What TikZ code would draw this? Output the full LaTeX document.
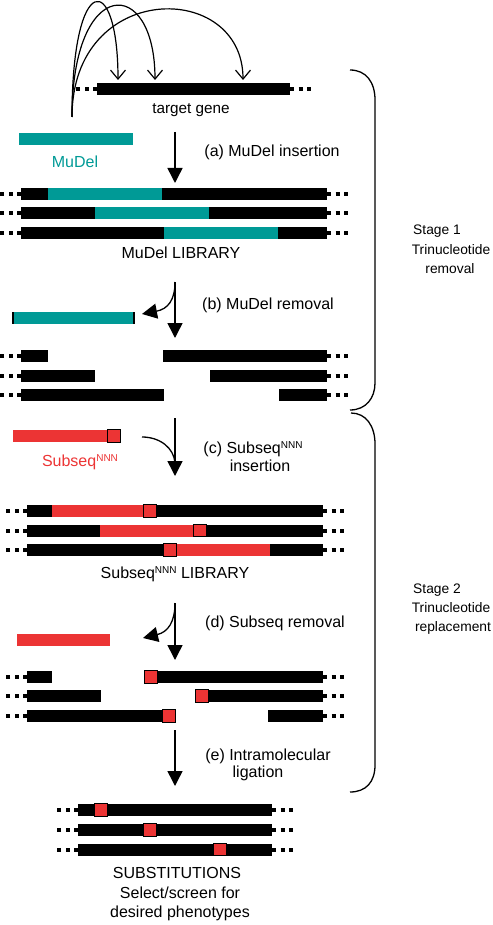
\documentclass[tikz,border=0pt]{standalone}
\usepackage{fontspec}
\setmainfont{Liberation Sans}
\usetikzlibrary{arrows.meta}
\definecolor{teal1}{HTML}{009A96}
\definecolor{red1}{HTML}{EC3434}
\newcommand\nnn{\raisebox{5pt}{\fontsize{10}{10}\selectfont NNN}}
\newcommand\gb[4]{\fill[#4] (#1,#3-6) rectangle (#2,#3+6);}
\begin{document}
\begin{tikzpicture}[x=1pt,y=-1pt,
  lbl/.style={anchor=base,inner sep=0pt,font=\fontsize{16}{19}\selectfont},
  slbl/.style={anchor=base,inner sep=0pt,font=\fontsize{13.8}{17}\selectfont},
  dotl/.style={line width=4pt,dash pattern=on 4pt off 4.5pt},
  arr/.style={line width=1.5pt,-{Triangle[length=15pt,width=15pt]}},
  carr/.style={line width=1.3pt,-{Triangle[length=15pt,width=15pt]}},
  jump/.style={line width=1.2pt,-{Straight Barb[length=9pt,width=15pt,line width=1.2pt]}},
  sq/.style={draw=black,line width=1.2pt,fill=red1,minimum size=12.5pt,inner sep=0pt},
  bracel/.style={line width=1.3pt}
]
\useasboundingbox (0,0) rectangle (492,925);

% ---------- target gene ----------
\draw[dotl] (97,89) -- (75,89);
\draw[dotl] (290,89) -- (313,89);
\gb{97}{290}{89}{black}
\node[lbl,font=\fontsize{15.3}{19}\selectfont] (tg) at (191,114) {target gene};

\coordinate (src) at (72,117);
\coordinate (t1) at (118,80);
\coordinate (t2) at (155,80);
\coordinate (t3) at (243,80);
\draw[jump] (src) .. controls (72,-30) and (118,-30) .. (t1);
\draw[jump] (src) .. controls (72,-25) and (155,-25) .. (t2);
\draw[jump] (src) .. controls (72,-20) and (243,-20) .. (t3);

% ---------- MuDel ----------
\gb{19}{133}{139}{teal1}
\node[lbl,text=teal1] (mdl) at (75,168) {MuDel};
\coordinate (a0) at (175,132);
\coordinate (a1) at (175,183);
\draw[arr] (a0) -- (a1);
\node[lbl] (la) at (272,157) {(a) MuDel insertion};

% library 1
\foreach \y/\ta/\tb in {194/48/162, 213.5/95/209, 233/164/278}{
  \draw[dotl] (21,\y) -- (0,\y);
  \draw[dotl] (327,\y) -- (349,\y);
  \gb{21}{327}{\y}{black}
  \gb{\ta}{\tb}{\y}{teal1}
}
\node[lbl] (lib1) at (181,258) {MuDel LIBRARY};

% ---------- (b) removal ----------
\gb{12}{135}{318}{black}
\gb{13.8}{133.2}{318}{teal1}
\coordinate (b0) at (175,282);
\coordinate (b1) at (175,338);
\coordinate (b2) at (142,314);
\draw[arr] (b0) -- (b1);
\draw[carr] (b0) .. controls (175,300) and (168,309) .. (b2);
\node[lbl] (lb) at (268,309) {(b) MuDel removal};

\foreach \y/\la/\ra in {356/48/163, 376/95/210, 395/164/279}{
  \draw[dotl] (21,\y) -- (0,\y);
  \draw[dotl] (327,\y) -- (349,\y);
  \gb{21}{\la}{\y}{black}
  \gb{\ra}{327}{\y}{black}
}

% ---------- braces ----------
\draw[bracel] (350,70) .. controls (366,70) and (375,82) .. (375,100) -- (375,383)
  .. controls (375,398) and (366,410) .. (350,410);
\draw[bracel] (351,413) .. controls (366,413) and (375,426) .. (375,444) -- (375,765)
  .. controls (375,782) and (366,792) .. (350,792);
\node[slbl] (s1a) at (437,234) {Stage 1};
\node[slbl] (s1b) at (451,254) {Trinucleotide};
\node[slbl] (s1c) at (450,273) {removal};
\node[slbl] (s2a) at (437,593) {Stage 2};
\node[slbl] (s2b) at (451,612) {Trinucleotide};
\node[slbl] (s2c) at (453,631) {replacement};

% ---------- (c) insertion ----------
\gb{13}{114}{436}{red1}
\node[sq] (sc) at (114,436) {};
\node[lbl,text=red1] (ssl) at (80,466) {Subseq\nnn};
\coordinate (c0) at (175,418);
\coordinate (c1) at (175,476);
\coordinate (c2) at (142,437);
\draw[arr] (c0) -- (c1);
\draw[line width=1.3pt] (c2) .. controls (160,437) and (174,448) .. (175,463);
\node[lbl] (lc1) at (253,453) {(c) Subseq\nnn};
\node[lbl] (lc2) at (260,471) {insertion};

% library 2
\foreach \y in {511,530.5,550}{
  \draw[dotl] (27,\y) -- (5,\y);
  \draw[dotl] (323,\y) -- (345,\y);
  \gb{27}{323}{\y}{black}
}
\gb{52}{150}{511}{red1}
\node[sq] (l2a) at (150,511) {};
\gb{100}{200}{530.5}{red1}
\node[sq] (l2b) at (200,530.5) {};
\gb{170}{270}{550}{red1}
\node[sq] (l2c) at (170,550) {};
\node[lbl] (lib2) at (175,578) {Subseq\nnn{} LIBRARY};

% ---------- (d) removal ----------
\gb{17}{110}{640}{red1}
\coordinate (d0) at (175,603);
\coordinate (d1) at (175,660);
\coordinate (d2) at (143,638);
\draw[arr] (d0) -- (d1);
\draw[carr] (d0) .. controls (175,622) and (168,632) .. (d2);
\node[lbl] (ld) at (275,627) {(d) Subseq removal};

\foreach \y/\la/\ra in {677/52/151, 696/101/202, 716/169/268}{
  \draw[dotl] (27,\y) -- (5,\y);
  \draw[dotl] (323,\y) -- (345,\y);
  \gb{27}{\la}{\y}{black}
  \gb{\ra}{323}{\y}{black}
}
\node[sq] (f1) at (151,677) {};
\node[sq] (f2) at (202,696) {};
\node[sq] (f3) at (169,716) {};

% ---------- (e) ligation ----------
\coordinate (e0) at (175,730);
\coordinate (e1) at (175,786);
\draw[arr] (e0) -- (e1);
\node[lbl] (le1) at (268,760) {(e) Intramolecular};
\node[lbl] (le2) at (258,777) {ligation};

\foreach \y/\s in {810/101, 830/150, 849.5/220}{
  \draw[dotl] (78,\y) -- (56,\y);
  \draw[dotl] (272,\y) -- (294,\y);
  \gb{78}{272}{\y}{black}
}
\node[sq] (g1) at (101,810) {};
\node[sq] (g2) at (150,830) {};
\node[sq] (g3) at (220,849.5) {};

\node[lbl] (sub1) at (177,878) {SUBSTITUTIONS};
\node[lbl] (sub2) at (180,898) {Select/screen for};
\node[lbl] (sub3) at (180,917) {desired phenotypes};
\end{tikzpicture}
\end{document}
